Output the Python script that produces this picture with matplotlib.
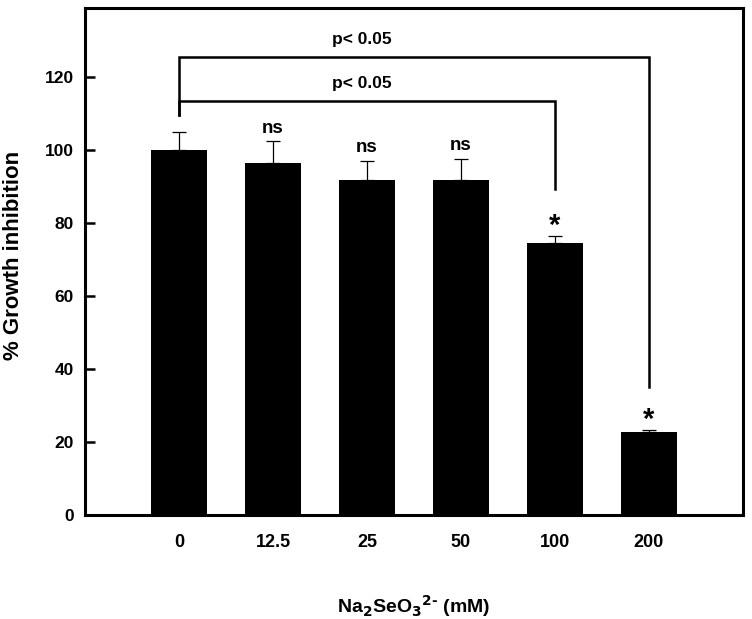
import numpy as np
import matplotlib
matplotlib.use("Agg")
import matplotlib.pyplot as plt

plt.rcParams['font.family'] = ['Liberation Sans', 'DejaVu Sans']
plt.rcParams['font.weight'] = 'bold'

conc = ['0', '12.5', '25', '50', '100', '200']
growth = [100, 96.5, 91.8, 91.8, 74.6, 22.8]
sem = [5.0, 6.0, 5.3, 5.9, 1.8, 0.5]
marks = ['', 'ns', 'ns', 'ns', '*', '*']

# brackets: (left bar, right bar, height, left leg bottom, right leg bottom, label)
brackets = [(0, 4, 113.6, 109.7, 89.3, 'p< 0.05'),
            (0, 5, 125.6, 109.7, 35.2, 'p< 0.05')]

x = np.arange(len(conc))

fig = plt.figure(figsize=(7.52, 6.19), dpi=100)
ax = fig.add_axes([0.113, 0.168, 0.875, 0.819])

ax.bar(x, growth, width=0.6, color='black', zorder=2)
ax.errorbar(x, growth, yerr=[np.zeros(len(sem)), sem], fmt='none',
            ecolor='black', elinewidth=0.9, capsize=5, capthick=0.9, zorder=1)

for i, m in enumerate(marks):
    if not m:
        continue
    top = growth[i] + sem[i]
    if m == '*':
        ax.text(x[i], top - 1.0, m, ha='center', va='bottom', fontsize=21)
    else:
        ax.text(x[i], top + 1.2, m, ha='center', va='bottom', fontsize=13.5)

for l, r, h, lb, rb, lab in brackets:
    ax.plot([x[l], x[l], x[r], x[r]], [lb, h, h, rb], color='black', lw=1.8,
            solid_joinstyle='miter', zorder=3)
    ax.text(1.95, h + 2.6, lab, ha='center', va='bottom', fontsize=12.5)

ax.set_xlim(-1, 6)
ax.set_ylim(0, 139)
ax.set_yticks([0, 20, 40, 60, 80, 100, 120])
ax.set_xticks(x)
ax.set_xticklabels(conc)
ax.tick_params(axis='y', direction='in', length=7, width=1.8, labelsize=12.5, pad=8)
ax.tick_params(axis='x', length=0, labelsize=13, pad=14)
for lab in ax.get_xticklabels() + ax.get_yticklabels():
    lab.set_fontweight('bold')
for s in ax.spines.values():
    s.set_linewidth(2.2)

ax.set_ylabel('% Growth inhibition', fontsize=16, fontweight='bold')
ax.yaxis.set_label_coords(-0.092, 0.512)
ax.set_xlabel(r'Na$_\mathbf{2}$SeO$_\mathbf{3}$$^\mathbf{2\text{-}}$ (mM)', fontsize=14,
              fontweight='bold', labelpad=30)

fig.savefig('out.png', dpi=100)
